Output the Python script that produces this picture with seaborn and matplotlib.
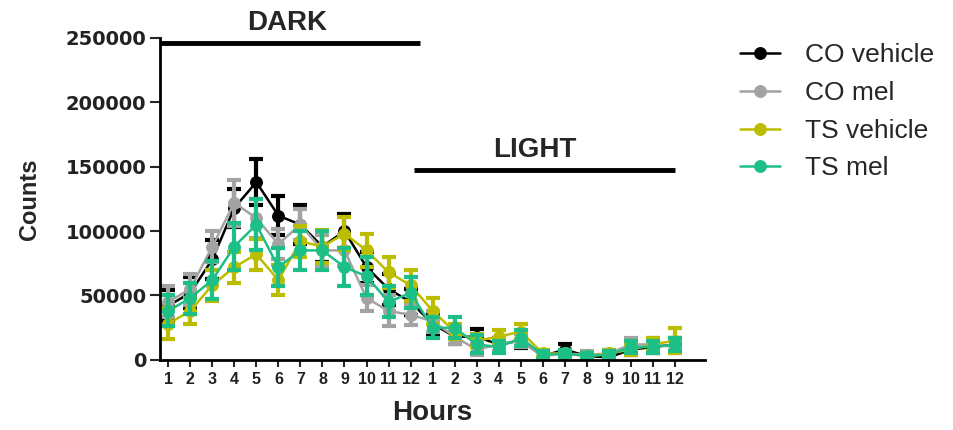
import numpy as np
import pandas as pd
import matplotlib
matplotlib.use("Agg")
import matplotlib.pyplot as plt
import seaborn as sns

hour_labels = [str(h) for h in range(1, 13)] * 2
groups = ["CO vehicle", "CO mel", "TS vehicle", "TS mel"]
colors = ["#000000", "#a3a3a3", "#bcbc00", "#1cbf86"]

co_vehicle = [42000, 52000, 78000, 118000, 138000, 112000, 105000, 88000, 100000, 72000, 55000, 45000,
              28000, 18000, 18000, 12000, 15000, 3000, 8000, 3000, 2000, 8000, 10000, 12000]
co_vehicle_err = [12000, 12000, 15000, 15000, 18000, 15000, 15000, 12000, 13000, 12000, 12000, 10000,
                  8000, 6000, 6000, 5000, 6000, 3000, 4000, 3000, 2000, 4000, 5000, 5000]

co_mel = [45000, 55000, 88000, 122000, 110000, 90000, 105000, 85000, 85000, 48000, 38000, 35000,
          30000, 18000, 8000, 12000, 15000, 3000, 5000, 4000, 5000, 12000, 12000, 10000]
co_mel_err = [12000, 12000, 12000, 18000, 15000, 12000, 12000, 12000, 12000, 10000, 12000, 8000,
              8000, 6000, 4000, 5000, 5000, 3000, 3000, 3000, 3000, 5000, 5000, 5000]

ts_vehicle = [28000, 38000, 58000, 72000, 82000, 62000, 92000, 88000, 98000, 85000, 68000, 58000,
              38000, 22000, 15000, 18000, 22000, 5000, 5000, 3000, 5000, 8000, 12000, 15000]
ts_vehicle_err = [12000, 10000, 12000, 12000, 12000, 12000, 12000, 13000, 13000, 13000, 12000, 12000,
                  10000, 6000, 5000, 5000, 6000, 3000, 3000, 2000, 3000, 4000, 5000, 10000]

ts_mel = [38000, 48000, 62000, 88000, 105000, 72000, 85000, 85000, 72000, 65000, 45000, 52000,
          25000, 25000, 12000, 10000, 17000, 4000, 5000, 3000, 4000, 10000, 10000, 12000]
ts_mel_err = [12000, 12000, 15000, 18000, 20000, 15000, 15000, 15000, 15000, 15000, 12000, 12000,
              8000, 8000, 7000, 5000, 6000, 3000, 3000, 2000, 3000, 5000, 5000, 5000]

means = [co_vehicle, co_mel, ts_vehicle, ts_mel]
errs = [co_vehicle_err, co_mel_err, ts_vehicle_err, ts_mel_err]
slot = np.arange(len(hour_labels))

sns.set_style("white")
plt.rcParams['font.family'] = ['Liberation Sans', 'DejaVu Sans']

fig = plt.figure(figsize=(9.54, 4.30), dpi=100)
ax = fig.add_axes([0.168, 0.163, 0.571, 0.749])

for name, m, e, c in zip(groups, means, errs, colors):
    df = pd.DataFrame({"slot": slot, "counts": m})
    sns.lineplot(data=df, x="slot", y="counts", ax=ax, color=c, marker="o",
                 markersize=8.5, markeredgecolor=c, linewidth=1.8, label=name)
    ax.errorbar(slot, m, yerr=e, fmt="none", ecolor=c, elinewidth=3,
                capsize=5, capthick=3)

ax.set_xlim(-0.36, 24.36)
ax.set_ylim(0, 250000)
ax.set_yticks([0, 50000, 100000, 150000, 200000, 250000])
ax.set_yticklabels(["0", "50000", "100000", "150000", "200000", "250000"],
                   fontsize=14, fontweight="bold", color="#222222", family="DejaVu Sans")
ax.set_xticks(slot)
ax.set_xticklabels(hour_labels, fontsize=11.5, fontweight="bold", color="#222222")
ax.tick_params(axis="both", direction="out", width=1.5, bottom=True, left=True)
ax.tick_params(axis="y", length=7, pad=3)
ax.tick_params(axis="x", length=5, pad=4)
for s in ["top", "right"]:
    ax.spines[s].set_visible(False)
for s in ["left", "bottom"]:
    ax.spines[s].set_linewidth(2)
    ax.spines[s].set_color("black")

ax.set_xlabel("Hours", fontsize=20, fontweight="bold", labelpad=9)
ax.set_ylabel("Counts", fontsize=17, fontweight="bold", labelpad=18)

# dark / light period bars
ax.plot([-0.36, 11.43], [246000, 246000], color="black", lw=3.5, clip_on=False, solid_capstyle="butt")
ax.plot([11.16, 23.0], [147500, 147500], color="black", lw=3.5, clip_on=False, solid_capstyle="butt")
ax.text(5.4, 251500, "DARK", ha="center", va="bottom", fontsize=20, fontweight="bold")
ax.text(16.65, 152500, "LIGHT", ha="center", va="bottom", fontsize=20, fontweight="bold")

ax.get_legend().remove()
handles, labels = ax.get_legend_handles_labels()
fig.legend(handles, labels, loc="upper left", bbox_to_anchor=(0.762, 0.93), frameon=False,
           fontsize=19, handlelength=1.5, labelspacing=0.52, handletextpad=0.95, borderpad=0)

fig.savefig("out.png", dpi=100)
